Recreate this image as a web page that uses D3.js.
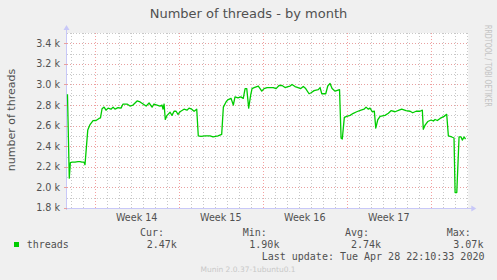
<!DOCTYPE html>
<html><head><meta charset="utf-8">
<script src="https://cdn.jsdelivr.net/npm/d3@7"></script>
<style>
html,body{margin:0;padding:0;background:#f0f0f0;}
svg{display:block;}
</style></head>
<body>
<svg id="chart" width="497" height="280"></svg>
<script>
// ---- data ----
const title = "Number of threads - by month";
const yLabel = "number of threads";
// days relative to Monday, start of Week 14
const dayOffsets = [-2.27,-2.12,-2.03,-1.89,-1.64,-1.39,-1.23,-1.06,-0.89,-0.81,-0.58,-0.39,-0.14,0.11,0.36,0.48,0.61,0.78,0.94,1.11,1.36,1.53,1.69,1.94,2.19,2.36,2.69,2.94,3.19,3.53,3.78,4.03,4.28,4.53,4.78,4.94,5.19,5.44,5.61,5.69,5.78,5.88,6.03,6.28,6.44,6.61,6.78,6.94,7.11,7.44,7.69,7.86,8.08,8.28,8.50,8.63,8.86,9.19,9.61,9.86,10.28,10.58,10.72,10.94,11.08,11.36,11.55,11.69,11.94,12.17,12.38,12.53,12.67,12.83,13.00,13.11,13.28,13.63,13.78,13.92,14.11,14.36,14.61,14.88,15.11,15.36,15.61,15.86,16.11,16.28,16.44,16.69,16.94,17.17,17.38,17.58,17.86,18.03,18.28,18.63,18.78,18.92,19.25,19.42,19.61,19.78,20.03,20.40,20.53,20.63,20.80,21.00,21.28,21.55,21.83,22.19,22.44,22.61,22.80,22.94,23.13,23.30,23.42,23.58,23.78,24.19,24.47,24.69,25.03,25.36,25.58,25.94,26.28,26.50,26.78,27.11,27.30,27.38,27.53,27.75,28.03,28.22,28.36,28.55,28.78,29.11,29.33,29.47,29.75,29.94,30.03,30.17,30.36,30.53,30.63,30.78,30.90];
// threads, thousands
const threads = [2.905,2.09,2.24,2.245,2.245,2.25,2.25,2.245,2.245,2.22,2.557,2.61,2.648,2.65,2.67,2.675,2.764,2.78,2.75,2.77,2.76,2.78,2.76,2.775,2.77,2.81,2.81,2.79,2.80,2.84,2.83,2.81,2.79,2.82,2.78,2.81,2.80,2.79,2.80,2.76,2.81,2.66,2.70,2.73,2.70,2.74,2.74,2.71,2.735,2.76,2.75,2.77,2.76,2.74,2.76,2.50,2.496,2.50,2.50,2.49,2.50,2.515,2.78,2.83,2.85,2.865,2.80,2.88,2.87,2.88,2.865,2.96,2.96,2.77,2.90,2.96,2.97,2.985,2.96,2.935,2.96,2.97,2.97,2.97,2.96,2.99,2.99,2.97,2.98,2.985,3.00,2.98,2.97,2.96,2.98,2.96,2.91,2.92,2.94,2.95,2.97,2.91,2.91,2.985,3.01,2.96,2.935,2.95,2.477,2.47,2.68,2.69,2.70,2.72,2.735,2.75,2.76,2.78,2.76,2.77,2.735,2.74,2.575,2.655,2.69,2.70,2.72,2.745,2.735,2.75,2.76,2.745,2.74,2.725,2.74,2.74,2.75,2.565,2.605,2.64,2.655,2.645,2.66,2.65,2.67,2.69,2.71,2.50,2.49,2.48,1.95,1.95,2.49,2.49,2.46,2.49,2.47];
const weekStarts = [0,7,14,21,28];
const weekLabels = ["Week 14","Week 15","Week 16","Week 17"];
const weekLabelPos = [3.5,10.5,17.5,24.5];
const yTicks = [1.8,2.0,2.2,2.4,2.6,2.8,3.0,3.2,3.4];
const yTickLabels = ["1.8 k","2.0 k","2.2 k","2.4 k","2.6 k","2.8 k","3.0 k","3.2 k","3.4 k"];
const yMinor = [1.9,2.1,2.3,2.5,2.7,2.9,3.1,3.3,3.5];
const legendHeads = ["Cur:","Min:","Avg:","Max:"];
const legendVals = ["2.47k","1.90k","2.74k","3.07k"];
const seriesName = "threads";
const lastUpdate = "Last update: Tue Apr 28 22:10:33 2020";
const footer = "Munin 2.0.37-1ubuntu0.1";
const watermark = "RRDTOOL / TOBI OETIKER";

// ---- chart ----
const svg = d3.select("#chart");
const L = 67, R = 468.3, T = 33, B = 208;
const x = d3.scaleLinear().domain([-2.31, 31.13]).range([L, R]);
const y = d3.scaleLinear().domain([1.8, 3.5]).range([B, T]);
const txt = "#505050";
const sans = "'DejaVu Sans', sans-serif";
const mono = "'DejaVu Sans Mono', monospace";

svg.append("rect").attr("width",497).attr("height",280).attr("fill","#f0f0f0");
svg.append("rect").attr("x",L).attr("y",T).attr("width",R-L).attr("height",B-T).attr("fill","#fff");

const g = svg.append("g");
// minor grid
const days = d3.range(-2, 32).filter(d => !weekStarts.includes(d));
g.selectAll(".vmin").data(days).join("line")
  .attr("x1",d=>Math.round(x(d))+0.5).attr("x2",d=>Math.round(x(d))+0.5)
  .attr("y1",T).attr("y2",B)
  .attr("stroke","#c8c8c8").attr("stroke-dasharray","1,2").attr("stroke-width",1);
g.selectAll(".hmin").data(yMinor).join("line")
  .attr("x1",L).attr("x2",R)
  .attr("y1",d=>Math.round(y(d))+0.5).attr("y2",d=>Math.round(y(d))+0.5)
  .attr("stroke","#c8c8c8").attr("stroke-dasharray","1,2").attr("stroke-width",1);
// major grid
g.selectAll(".vmaj").data(weekStarts).join("line")
  .attr("x1",d=>Math.round(x(d))+0.5).attr("x2",d=>Math.round(x(d))+0.5)
  .attr("y1",T).attr("y2",B)
  .attr("stroke","#f4a0a0").attr("stroke-dasharray","1,2").attr("stroke-width",1);
g.selectAll(".hmaj").data(yTicks.slice(1)).join("line")
  .attr("x1",L).attr("x2",R)
  .attr("y1",d=>Math.round(y(d))+0.5).attr("y2",d=>Math.round(y(d))+0.5)
  .attr("stroke","#e8a0a0").attr("stroke-dasharray","1,2").attr("stroke-width",1);

// axes with arrows
const axc = "#c8c8f8";
svg.append("line").attr("x1",L-0.5).attr("x2",L-0.5).attr("y1",B+2).attr("y2",T-4).attr("stroke",axc);
svg.append("path").attr("d",`M${L-3.5},${T-3} L${L-0.5},${T-8} L${L+2.5},${T-3} Z`).attr("fill",axc);
svg.append("line").attr("x1",L-3).attr("x2",R+4).attr("y1",B+0.5).attr("y2",B+0.5).attr("stroke",axc);
svg.append("path").attr("d",`M${R+3},${B-2.5} L${R+8},${B+0.5} L${R+3},${B+3.5} Z`).attr("fill",axc);

// y tick marks & labels
svg.selectAll(".yt").data(yTicks).join("line")
  .attr("x1",L-3).attr("x2",L).attr("y1",d=>Math.round(y(d))+0.5).attr("y2",d=>Math.round(y(d))+0.5)
  .attr("stroke","#e8a0a0");
svg.selectAll(".yl").data(yTicks).join("text")
  .attr("x",60).attr("y",d=>y(d)).attr("dy","0.36em")
  .attr("text-anchor","end").attr("font-family",sans).attr("font-size",9.6).attr("fill",txt)
  .text((d,i)=>yTickLabels[i]);
// x labels
svg.selectAll(".xl").data(weekLabelPos).join("text")
  .attr("x",d=>x(d)).attr("y",221)
  .attr("text-anchor","middle").attr("font-family",sans).attr("font-size",9.6).attr("fill",txt)
  .text((d,i)=>weekLabels[i]);

// data line
const pts = dayOffsets.map((d,i)=>[d, threads[i]]);
svg.append("path").datum(pts)
  .attr("d", d3.line().x(d=>x(d[0])).y(d=>y(d[1])))
  .attr("fill","none").attr("stroke","#00cc00").attr("stroke-width",1.3).attr("stroke-linejoin","round");

// title & labels
svg.append("text").attr("x",248.5).attr("y",18).attr("text-anchor","middle")
  .attr("font-family",sans).attr("font-size",13).attr("fill",txt).text(title);
svg.append("text").attr("transform","translate(15,120) rotate(-90)").attr("text-anchor","middle")
  .attr("font-family",sans).attr("font-size",11).attr("fill",txt).text(yLabel);
svg.append("text").attr("transform","translate(484.5,25) rotate(90)").attr("text-anchor","start")
  .attr("textLength",82).attr("lengthAdjust","spacingAndGlyphs")
  .attr("font-family",sans).attr("font-size",8).attr("fill","#c4c4c4").text(watermark);

// legend
const headX = [140,242.7,345,446.7];
const valX = [146.7,249.3,351,453.3];
svg.selectAll(".lh").data(legendHeads).join("text")
  .attr("x",(d,i)=>headX[i]).attr("y",236)
  .attr("font-family",mono).attr("font-size",10).attr("fill",txt).text(d=>d);
svg.append("rect").attr("x",14).attr("y",242).attr("width",5).attr("height",5).attr("fill","#00cc00");
svg.append("text").attr("x",26.7).attr("y",248).attr("font-family",mono).attr("font-size",10).attr("fill",txt).text(seriesName);
svg.selectAll(".lv").data(legendVals).join("text")
  .attr("x",(d,i)=>valX[i]).attr("y",248)
  .attr("font-family",mono).attr("font-size",10).attr("fill",txt).text(d=>d);
svg.append("text").attr("x",261.7).attr("y",260).attr("font-family",mono).attr("font-size",10).attr("fill",txt).text(lastUpdate);
svg.append("text").attr("x",248).attr("y",272).attr("text-anchor","middle")
  .attr("font-family",sans).attr("font-size",7.5).attr("fill","#c8c8c8").text(footer);
</script>
</body></html>
